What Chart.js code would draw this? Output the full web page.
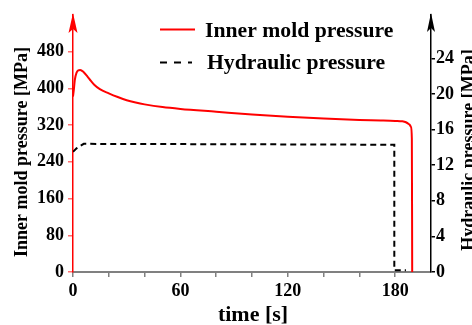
<!DOCTYPE html>
<html>
<head>
<meta charset="utf-8">
<script src="https://cdn.jsdelivr.net/npm/chart.js@4/dist/chart.umd.min.js"></script>
<style>
html,body{margin:0;padding:0;background:#fff;}
#c{display:block;}
</style>
</head>
<body>
<canvas id="c" width="472" height="325"></canvas>
<script>
// ---- data ----
const innerTime = [0, 0.5, 1, 2, 3, 4, 6, 8, 10, 12, 15, 20, 25, 30, 35, 40, 50, 60, 80, 100, 120, 140, 160, 172, 180, 184, 186, 188, 188.8, 189.3, 189.5];
const innerPressure = [382, 398, 418, 434, 439, 440, 435, 426, 416, 407, 398, 389, 381, 374, 369, 365, 359, 355, 349, 343, 338, 334, 331, 330, 329, 328, 326, 321, 316, 290, 0];
const hydTime = [0, 2, 3.5, 6, 100, 179.5, 179.5, 186];
const hydPressure = [13.5, 13.9, 14.1, 14.4, 14.35, 14.3, 0.2, 0.2];
const leftTicks = [0, 80, 160, 240, 320, 400, 480];
const rightTicks = [0, 4, 8, 12, 16, 20, 24];
const xLabelTicks = [0, 60, 120, 180];
const seriesNames = ['Inner mold pressure', 'Hydraulic pressure'];
const axisTitles = {x: 'time [s]', left: 'Inner mold pressure [MPa]', right: 'Hydraulic pressure [MPa]'};

const FONT = "'Liberation Serif', 'Times New Roman', serif";

const decor = {
  id: 'decor',
  afterDraw(chart) {
    const ctx = chart.ctx;
    const a = chart.chartArea;
    ctx.save();
    // arrows
    ctx.fillStyle = '#ff0000';
    ctx.beginPath();
    ctx.moveTo(a.left, 13); ctx.lineTo(a.left - 4.5, 33); ctx.lineTo(a.left, 29); ctx.lineTo(a.left + 4.5, 33); ctx.closePath(); ctx.fill();
    ctx.fillStyle = '#000';
    ctx.beginPath();
    ctx.moveTo(a.right, 13); ctx.lineTo(a.right - 4, 32); ctx.lineTo(a.right, 28); ctx.lineTo(a.right + 4, 32); ctx.closePath(); ctx.fill();
    // axis titles
    ctx.fillStyle = '#000';
    ctx.font = 'bold 18px ' + FONT;
    ctx.textAlign = 'center';
    ctx.textBaseline = 'middle';
    ctx.save(); ctx.translate(22, 152); ctx.rotate(-Math.PI / 2); ctx.fillText(axisTitles.left, 0, 0); ctx.restore();
    ctx.save(); ctx.translate(469, 150); ctx.rotate(-Math.PI / 2); ctx.fillText(axisTitles.right, 0, 0); ctx.restore();
    ctx.font = 'bold 22px ' + FONT;
    ctx.fillText(axisTitles.x, 253, 315);
    // legend
    ctx.lineWidth = 2;
    ctx.strokeStyle = '#ff0000';
    ctx.beginPath(); ctx.moveTo(160, 29.5); ctx.lineTo(195, 29.5); ctx.stroke();
    ctx.strokeStyle = '#000';
    ctx.setLineDash([7, 7]);
    ctx.beginPath(); ctx.moveTo(160, 62.5); ctx.lineTo(192, 62.5); ctx.stroke();
    ctx.setLineDash([]);
    ctx.font = 'bold 21.7px ' + FONT;
    ctx.textAlign = 'left';
    ctx.fillText(seriesNames[0], 205, 31);
    ctx.fillText(seriesNames[1], 207, 63);
    ctx.restore();
  }
};

new Chart(document.getElementById('c'), {
  type: 'line',
  data: {
    datasets: [
      {
        label: seriesNames[0],
        data: innerTime.map((t, i) => ({x: t, y: innerPressure[i]})),
        borderColor: '#ff0000', borderWidth: 2, pointRadius: 0,
        cubicInterpolationMode: 'monotone', yAxisID: 'y', fill: false
      },
      {
        label: seriesNames[1],
        data: hydTime.map((t, i) => ({x: t, y: hydPressure[i]})),
        borderColor: '#000', borderWidth: 2, borderDash: [6, 4], pointRadius: 0,
        tension: 0, yAxisID: 'y2', fill: false
      }
    ]
  },
  options: {
    responsive: false,
    animation: false,
    events: [],
    layout: {padding: {top: 13, left: 0, right: 0, bottom: 0}},
    plugins: {legend: {display: false}, tooltip: {enabled: false}},
    scales: {
      x: {
        type: 'linear', position: 'bottom', min: 0, max: 200,
        afterFit(s) { s.height = 53; },
        afterBuildTicks(s) { s.ticks = [0,20,40,60,80,100,120,140,160,180].map(v => ({value: v})); },
        ticks: {
          autoSkip: false, maxRotation: 0, padding: 4, color: '#000',
          font: {family: FONT, size: 18, weight: 'bold'},
          callback: v => xLabelTicks.includes(v) ? String(v) : ''
        },
        grid: {drawOnChartArea: false, tickLength: 5, color: '#808080', lineWidth: 1.5},
        border: {color: '#808080', width: 2}
      },
      y: {
        type: 'linear', position: 'left', min: 0, max: 560,
        afterFit(s) { s.width = 73; },
        afterBuildTicks(s) { s.ticks = leftTicks.map(v => ({value: v})); },
        ticks: {padding: 4, color: '#000', font: {family: FONT, size: 18, weight: 'bold'}},
        grid: {drawOnChartArea: false, tickLength: 5, color: '#ff7070', lineWidth: 1.5},
        border: {color: '#ff0000', width: 1.5}
      },
      y2: {
        type: 'linear', position: 'right', min: 0, max: 28.9,
        afterFit(s) { s.width = 41; },
        afterBuildTicks(s) { s.ticks = rightTicks.map(v => ({value: v})); },
        ticks: {padding: 1, color: '#000', font: {family: FONT, size: 18, weight: 'bold'}},
        grid: {drawOnChartArea: false, tickLength: 4, color: '#000', lineWidth: 1.5},
        border: {color: '#000', width: 1.5}
      }
    }
  },
  plugins: [decor]
});
</script>
</body>
</html>
